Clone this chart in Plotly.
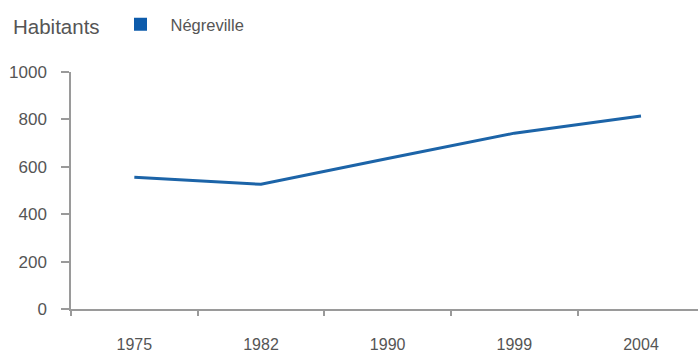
import plotly.graph_objects as go

years = ["1975", "1982", "1990", "1999", "2004"]
habitants = [556, 526, 635, 742, 814]
series_name = "Négreville"
y_ticks = [0, 200, 400, 600, 800, 1000]

LINE_COLOR = "#1c64a8"
AXIS_COLOR = "#9a9a9a"
TEXT_COLOR = "#555555"
FONT = "Liberation Sans, Arial, sans-serif"

fig = go.Figure()
fig.add_trace(go.Scatter(
    x=years, y=habitants, mode="lines",
    line=dict(color=LINE_COLOR, width=3),
    showlegend=False, hoverinfo="x+y",
))
fig.add_trace(go.Scatter(
    x=[None], y=[None], mode="markers", name=series_name,
    marker=dict(symbol="square", size=13, color="#0d5bab"),
    showlegend=True,
))

fig.update_layout(
    width=698, height=353,
    margin=dict(l=71, r=0, t=72, b=44),
    paper_bgcolor="white", plot_bgcolor="white",
    font=dict(family=FONT, color=TEXT_COLOR, size=16),
    legend=dict(
        orientation="h", x=0.063, y=1.2, xanchor="left", yanchor="middle",
        itemwidth=50,
        font=dict(size=16.5, color=TEXT_COLOR), bgcolor="rgba(0,0,0,0)",
    ),
    annotations=[dict(
        text="Habitants", xref="paper", yref="paper",
        x=-0.095, y=1.19, xanchor="left", yanchor="middle",
        showarrow=False, font=dict(size=20.5, color=TEXT_COLOR),
    )],
)
fig.update_xaxes(
    type="category", range=[-0.5, 4.45],
    showline=True, linecolor=AXIS_COLOR, linewidth=1.5,
    ticks="outside", ticklen=5, tickcolor=AXIS_COLOR, tickwidth=1.5,
    tickson="boundaries", showgrid=False, zeroline=False,
    ticklabelstandoff=20, tickfont=dict(size=16, color=TEXT_COLOR),
)
fig.update_yaxes(
    range=[0, 1000], tickvals=y_ticks,
    showline=True, linecolor=AXIS_COLOR, linewidth=1.5,
    ticks="outside", ticklen=8, tickcolor=AXIS_COLOR, tickwidth=1.5,
    showgrid=False, zeroline=False,
    ticklabelstandoff=11, tickfont=dict(size=17, color=TEXT_COLOR),
)

fig.write_html("out.html")
